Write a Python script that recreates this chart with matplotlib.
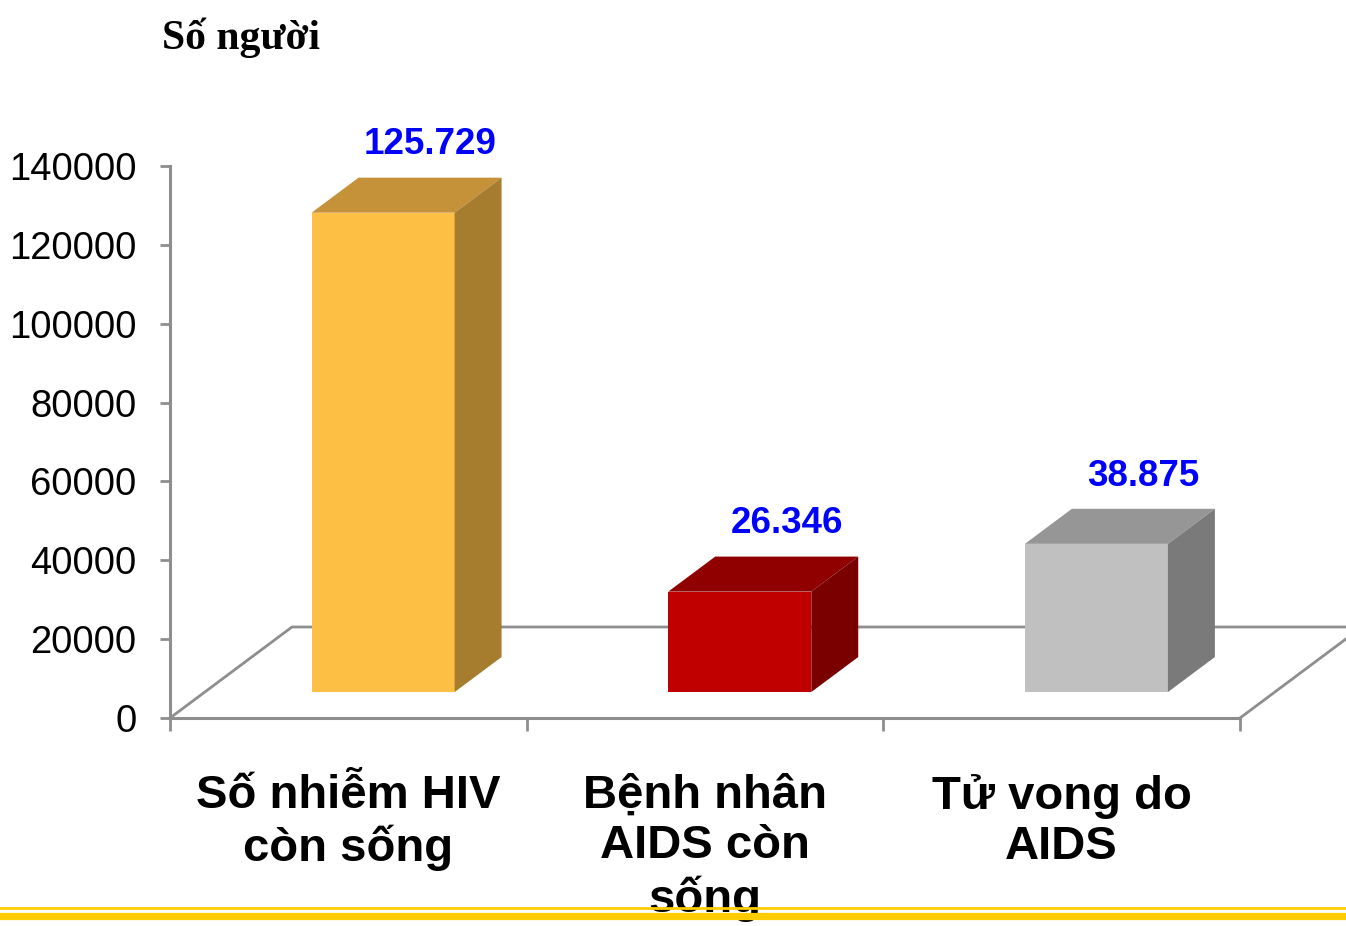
import numpy as np
import matplotlib.pyplot as plt
from matplotlib.patches import Polygon

# du lieu
categories = ["Số nhiễm HIV\ncòn sống", "Bệnh nhân\nAIDS còn\nsống", "Tử vong do\nAIDS"]
values = [125729, 26346, 38875]
labels = ["125.729", "26.346", "38.875"]
yticks = [0, 20000, 40000, 60000, 80000, 100000, 120000, 140000]

front_col = ["#FDC044", "#C00000", "#C0C0C0"]
top_col = ["#C5923A", "#900000", "#969696"]
side_col = ["#A67C2E", "#7A0000", "#7A7A7A"]

sans = ["Liberation Sans", "DejaVu Sans"]
serif = ["Liberation Serif", "DejaVu Serif"]
grey = "#8E8E8E"

fig = plt.figure(figsize=(13.46, 9.26), dpi=100)
ax = fig.add_axes([170/1346, 208/926, 1070/1346, 552/926])
ax.set_xlim(0, 3)
ax.set_ylim(0, 140000)

# chieu sau gia 3D (don vi du lieu)
Dx, Dy = 0.342, 23080
f1, f2 = 0.285, 0.67
bw = 0.401
shrink = 0.967

# san
ax.plot([0, Dx, 3 + Dx], [0, Dy, Dy], color=grey, lw=2, clip_on=False, zorder=1)
ax.plot([3, 3 + Dx], [0, Dy], color=grey, lw=2, clip_on=False, zorder=1)

d = (f2 - f1) * Dx
dd = (f2 - f1) * Dy
for i, v in enumerate(values):
    x0 = i + 0.5 - bw / 2 + f1 * Dx
    x1 = x0 + bw
    y0 = f1 * Dy
    y1 = y0 + v * shrink
    ax.add_patch(Polygon([(x0, y0), (x1, y0), (x1, y1), (x0, y1)], closed=True,
                         fc=front_col[i], ec="none", zorder=3))
    ax.add_patch(Polygon([(x0, y1), (x1, y1), (x1 + d, y1 + dd), (x0 + d, y1 + dd)], closed=True,
                         fc=top_col[i], ec="none", zorder=3))
    ax.add_patch(Polygon([(x1, y0), (x1 + d, y0 + dd), (x1 + d, y1 + dd), (x1, y1)], closed=True,
                         fc=side_col[i], ec="none", zorder=3))
    ax.annotate(labels[i], (i + 0.5 + f1 * Dx + d, y1 + dd), xytext=(0, 11),
                textcoords="offset points", ha="center", va="bottom",
                fontsize=26.5, fontweight="bold", color="#0000FF", family=sans,
                annotation_clip=False)

for s in ["top", "right"]:
    ax.spines[s].set_visible(False)
for s in ["left", "bottom"]:
    ax.spines[s].set_color(grey)
    ax.spines[s].set_linewidth(2.2)

ax.set_yticks(yticks)
ax.set_yticklabels([str(t) for t in yticks], fontsize=27.5, family=sans)
ax.tick_params(axis="y", length=7, width=2, color=grey, pad=17)

ax.set_xticks([0, 1, 2, 3])
ax.set_xticklabels([])
ax.tick_params(axis="x", which="major", length=9, width=2, color=grey)
ax.set_xticks([0.5, 1.5, 2.5], minor=True)
ax.set_xticklabels(categories, minor=True, fontsize=34, fontweight="bold", family=sans)
ax.tick_params(axis="x", which="minor", length=0, pad=40)

fig.text(162/1346, 1 - 38/926, "Số người", fontsize=30, fontweight="bold",
         family=serif, va="center", ha="left")

# duong vang duoi cung
fig.add_artist(plt.Line2D([0, 1], [1 - 908/926, 1 - 908/926], color="#FFCC00", lw=2))
fig.add_artist(plt.Line2D([0, 1], [1 - 915.5/926, 1 - 915.5/926], color="#FFCC00", lw=5.2))

fig.savefig("out.png", dpi=100)
